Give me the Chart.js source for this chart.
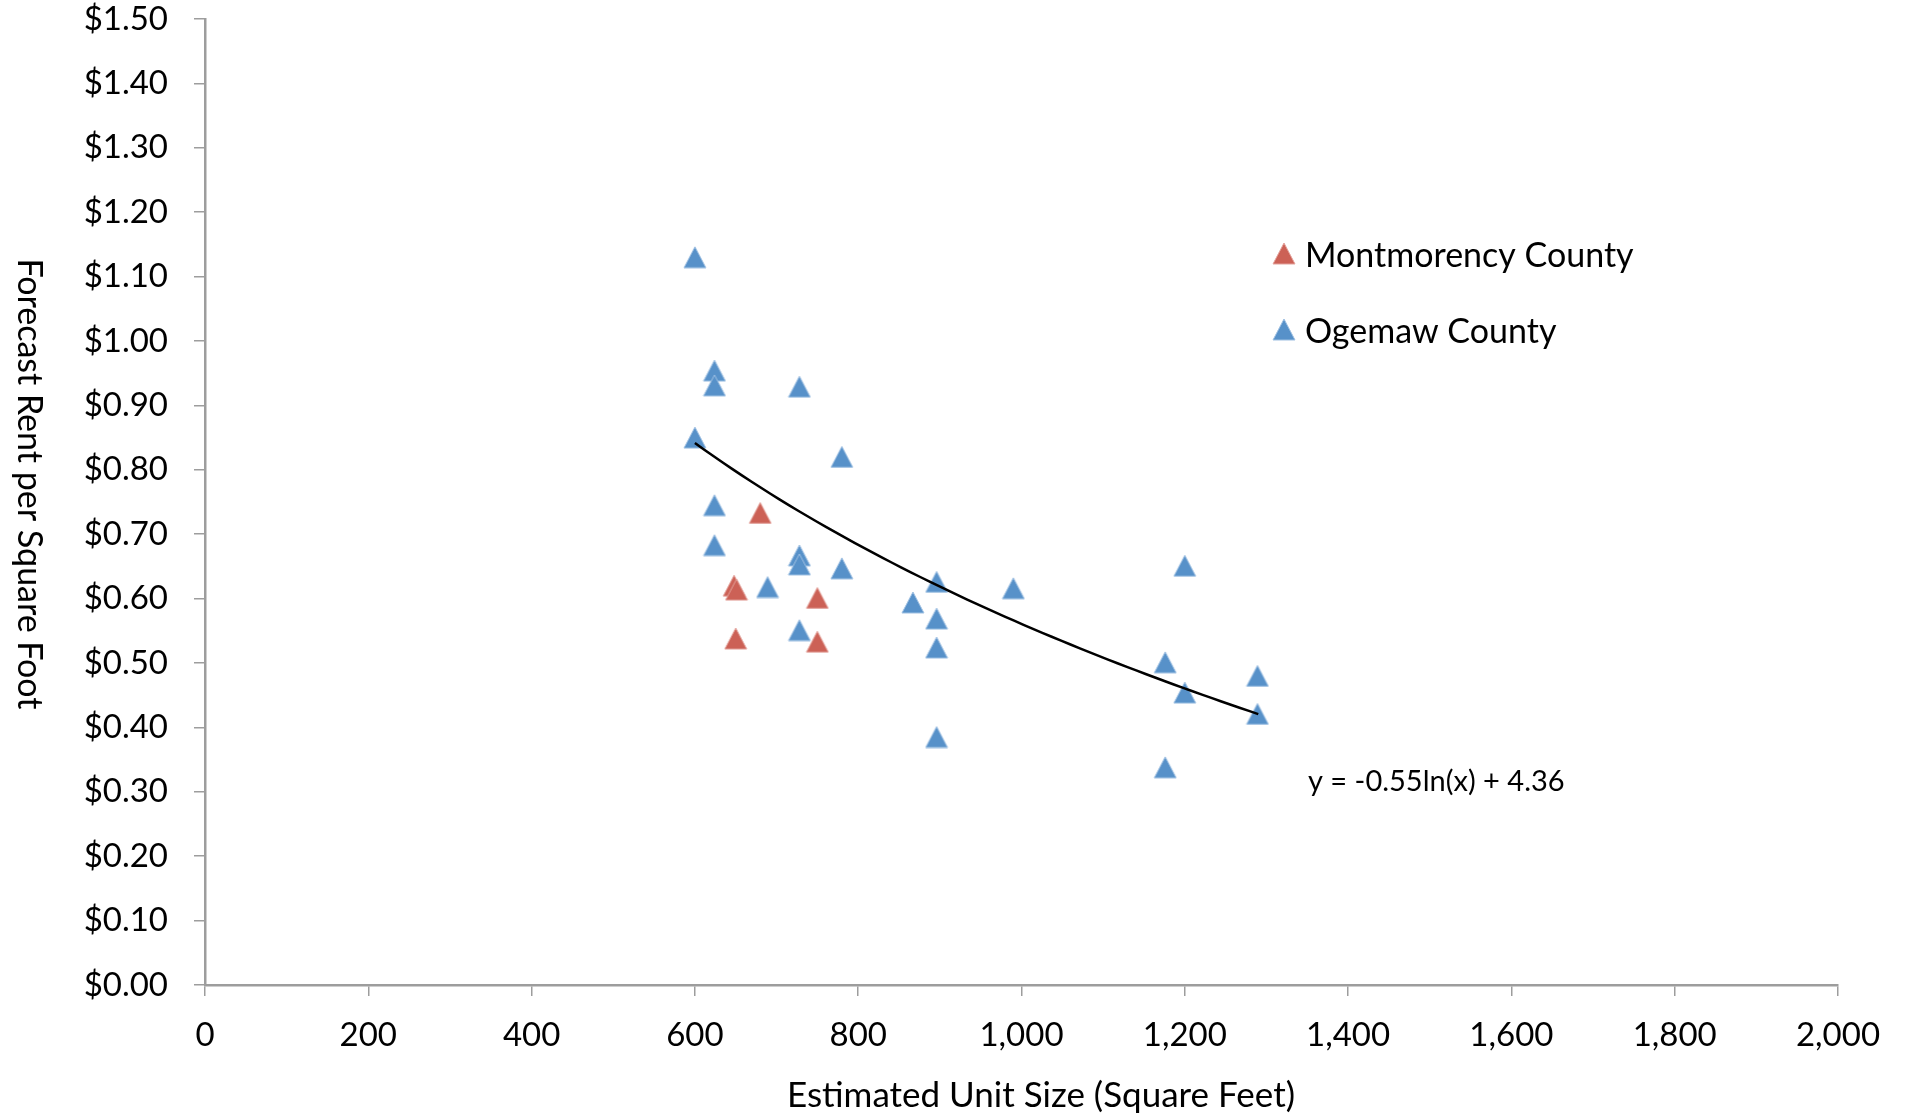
<!DOCTYPE html>
<html>
<head>
<meta charset="utf-8">
<script src="https://cdn.jsdelivr.net/npm/chart.js@4.4.1/dist/chart.umd.min.js"></script>
<style>
  body { margin: 0; background: #fff; }
  #wrap { width: 1905px; height: 1117px; }
</style>
</head>
<body>
<div id="wrap"><canvas id="chart" width="1905" height="1117"></canvas></div>
<script>
// series
const seriesNames = ["Montmorency County", "Ogemaw County"];

const montX = [680, 648, 651, 750, 650, 750];
const montY = [0.733, 0.620, 0.614, 0.601, 0.538, 0.533];

const ogeX = [600, 624, 624, 728, 600, 780, 624, 624, 728, 728, 780, 689, 896,
  990, 867, 896, 728, 896, 896, 1200, 1176, 1289, 1200, 1289, 1176];
const ogeY = [1.13, 0.954, 0.931, 0.929, 0.850, 0.820, 0.745, 0.683, 0.667, 0.653,
  0.647, 0.618, 0.626, 0.616, 0.594, 0.569, 0.551, 0.524, 0.385, 0.651, 0.501,
  0.480, 0.454, 0.421, 0.338];

// trendline as printed on the chart
const trendA = -0.55;
const trendB = 4.36;
const trendRange = [600, 1290];
const trendLabel = "y = -0.55ln(x) + 4.36";

// axes
const xTicks = [0, 200, 400, 600, 800, 1000, 1200, 1400, 1600, 1800, 2000];
const yTicks = [0, 0.1, 0.2, 0.3, 0.4, 0.5, 0.6, 0.7, 0.8, 0.9, 1.0, 1.1, 1.2, 1.3, 1.4, 1.5];
const xTitle = "Estimated Unit Size (Square Feet)";
const yTitle = "Forecast Rent per Square Foot";

const colors = ["#cc6156", "#5791c9"];
const edges = ["#e3a39c", "#9fc0e2"];
const axisColor = "#9d9d9d";
const FONT = "Lato, 'Open Sans', sans-serif";

function toPoints(xs, ys) {
  return xs.map(function (x, i) {
    return { x: x, y: ys[i] };
  });
}

function trendPoints() {
  const pts = [];
  const n = 60;
  for (let i = 0; i <= n; i++) {
    const x = trendRange[0] + (trendRange[1] - trendRange[0]) * i / n;
    pts.push({ x: x, y: trendA * Math.log(x) + trendB });
  }
  return pts;
}

// excel style triangle marker
function makeTriangle(fill, edge) {
  const c = document.createElement("canvas");
  c.width = 24;
  c.height = 23;
  const g = c.getContext("2d");
  g.beginPath();
  g.moveTo(12, 1);
  g.lineTo(23, 22);
  g.lineTo(1, 22);
  g.closePath();
  g.fillStyle = fill;
  g.fill();
  g.strokeStyle = edge;
  g.lineWidth = 1;
  g.stroke();
  return c;
}

const markers = [makeTriangle(colors[0], edges[0]), makeTriangle(colors[1], edges[1])];

const textPlugin = {
  id: "texts",
  afterDraw: function (chart) {
    const ctx = chart.ctx;
    ctx.save();
    ctx.fillStyle = "#000";

    // y title, reads top to bottom
    ctx.font = "34px " + FONT;
    ctx.textAlign = "center";
    ctx.textBaseline = "middle";
    ctx.save();
    ctx.translate(29, 484);
    ctx.rotate(Math.PI / 2);
    ctx.fillText(yTitle, 0, 0);
    ctx.restore();

    // x title
    ctx.font = "35px " + FONT;
    ctx.fillText(xTitle, 1041, 1096);

    // legend
    ctx.font = "34px " + FONT;
    ctx.textAlign = "left";
    const legendY = [253, 329];
    seriesNames.forEach(function (name, i) {
      ctx.drawImage(markers[i], 1284 - 12, legendY[i] - 11);
      ctx.fillText(name, 1305, legendY[i] + 3);
    });

    // trendline equation
    ctx.font = "29px " + FONT;
    ctx.fillText(trendLabel, 1308, 782);
    ctx.restore();
  },
};

function noPad(scale) {
  scale.paddingTop = 0;
  scale.paddingBottom = 0;
}

const chart = new Chart(document.getElementById("chart"), {
  type: "scatter",
  data: {
    datasets: [
      {
        type: "line",
        label: "trend",
        data: trendPoints(),
        borderColor: "#000",
        borderWidth: 2.5,
        pointRadius: 0,
        fill: false,
        tension: 0,
        order: 0,
      },
      {
        label: seriesNames[0],
        data: toPoints(montX, montY),
        pointStyle: markers[0],
        order: 1,
      },
      {
        label: seriesNames[1],
        data: toPoints(ogeX, ogeY),
        pointStyle: markers[1],
        order: 2,
      },
    ],
  },
  options: {
    responsive: false,
    animation: false,
    devicePixelRatio: 1,
    layout: { padding: { top: 19, right: 67, left: 0, bottom: 0 } },
    plugins: {
      legend: { display: false },
      tooltip: { enabled: false },
    },
    scales: {
      x: {
        type: "linear",
        min: 0,
        max: 2000,
        afterBuildTicks: function (scale) {
          scale.ticks = xTicks.map(function (v) { return { value: v }; });
        },
        afterFit: function (scale) {
          scale.height = 132;
          scale.paddingLeft = 0;
          scale.paddingRight = 0;
        },
        ticks: {
          color: "#000",
          font: { family: FONT, size: 33 },
          padding: 20,
          maxRotation: 0,
          callback: function (v) { return v.toLocaleString("en-US"); },
        },
        grid: {
          drawOnChartArea: false,
          drawTicks: true,
          tickLength: 11,
          color: axisColor,
          lineWidth: 1.5,
        },
        border: { display: true, color: axisColor, width: 2.5 },
      },
      y: {
        type: "linear",
        min: 0,
        max: 1.5,
        afterBuildTicks: function (scale) {
          scale.ticks = yTicks.map(function (v) { return { value: v }; });
        },
        afterFit: function (scale) {
          scale.width = 205;
          noPad(scale);
        },
        ticks: {
          color: "#000",
          font: { family: FONT, size: 33 },
          padding: 26,
          callback: function (v) { return "$" + v.toFixed(2); },
        },
        grid: {
          drawOnChartArea: false,
          drawTicks: true,
          tickLength: 11,
          color: axisColor,
          lineWidth: 1.5,
        },
        border: { display: true, color: axisColor, width: 2.5 },
      },
    },
  },
  plugins: [textPlugin],
});
</script>
</body>
</html>
